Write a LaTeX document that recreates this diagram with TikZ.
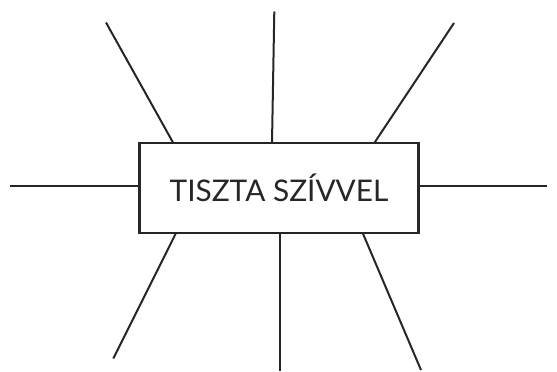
\documentclass[tikz,border=0pt]{standalone}
\usepackage{fontspec}
\setmainfont{Lato}
\begin{document}
\begin{tikzpicture}[x=1pt,y=-1pt,line width=2pt,
  ray/.style={draw=black!85},
  boxstyle/.style={draw=black!85,line width=2.2pt,minimum width=279pt,minimum height=90pt,inner sep=0pt,font=\fontsize{29.8}{32}\selectfont,text=black!85}]
\useasboundingbox (0,0) rectangle (557,372);
\node[boxstyle] (box) at (279,188) {TISZTA SZÍVVEL};
\coordinate (tl) at (106,22.5);
\coordinate (tm) at (274.3,11.5);
\coordinate (tr) at (454,23);
\coordinate (l) at (10,186);
\coordinate (r) at (547,186);
\coordinate (bl) at (113.3,358.5);
\coordinate (bm) at (280.3,371);
\coordinate (br) at (421,370);
\coordinate (tla) at (173.3,143);
\coordinate (tma) at (272,143);
\coordinate (tra) at (374.3,143);
\coordinate (bla) at (176,233);
\coordinate (bma) at (280.3,233);
\coordinate (bra) at (362.7,233);
\draw[ray] (tl) -- (tla);
\draw[ray] (tm) -- (tma);
\draw[ray] (tr) -- (tra);
\draw[ray] (l) -- (box.west |- l);
\draw[ray] (box.east |- r) -- (r);
\draw[ray] (bla) -- (bl);
\draw[ray] (bma) -- (bm);
\draw[ray] (bra) -- (br);
\end{tikzpicture}
\end{document}
